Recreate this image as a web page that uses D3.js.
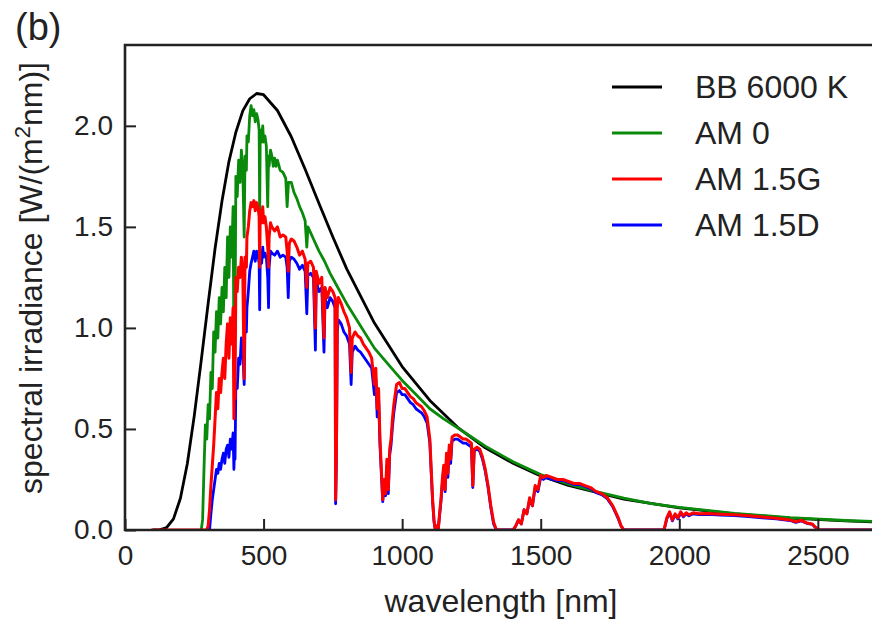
<!DOCTYPE html>
<html lang="en">
<head>
  <meta charset="UTF-8" />
  <title>Solar spectra</title>
  <style>
    body { margin: 0; background: #fff; overflow: hidden; font-family: "Liberation Sans", Arial, Helvetica, sans-serif; }
    svg { position: absolute; top: 0; left: 0; }
    .tick text { font-size: 28px; fill: #222; }
    .tick line { stroke: #222; stroke-width: 2px; }
    .series { fill: none; stroke-linejoin: round; }
    .label { font-size: 32px; fill: #222; }
  </style>
</head>
<body>
<svg id="chart"></svg>
<script src="https://d3js.org/d3.v7.min.js"></script>
<script>
  // black body 6000 K (scaled)
  const bbWl  = [100, 125, 150, 175, 200, 225, 250, 275, 300, 325, 350, 375, 400, 425, 450, 475, 500, 550, 600, 650, 700, 750, 800, 900, 1000, 1100, 1200, 1300, 1400, 1500, 1600, 1800, 2000, 2200, 2400, 2600, 2800];
  const bbVal = [0.0, 0.001, 0.012, 0.055, 0.157, 0.329, 0.566, 0.838, 1.121, 1.393, 1.628, 1.823, 1.968, 2.074, 2.134, 2.16, 2.154, 2.076, 1.946, 1.785, 1.616, 1.45, 1.292, 1.024, 0.809, 0.641, 0.508, 0.407, 0.33, 0.267, 0.221, 0.153, 0.109, 0.08, 0.059, 0.045, 0.035];

  // AM 0
  const am0Wl  = [275, 280, 285, 290, 295, 300, 305, 310, 315, 320, 325, 330, 335, 340, 345, 350, 355, 360, 365, 370, 375, 380, 385, 390, 393, 396, 397, 400, 405, 410, 415, 420, 425, 430, 433, 438, 440, 445, 450, 455, 460, 465, 470, 475, 480, 484, 486, 488, 493, 497, 500, 505, 510, 515, 518, 520, 525, 530, 535, 540, 545, 550, 560, 570, 580, 585, 590, 600, 610, 620, 630, 640, 650, 656, 660, 670, 680, 690, 700, 720, 740, 760, 780, 800, 850, 900, 950, 1000, 1050, 1100, 1150, 1200, 1250, 1300, 1400, 1500, 1600, 1700, 1800, 1900, 2000, 2200, 2400, 2600, 2800];
  const am0Val = [0.0, 0.05, 0.3, 0.52, 0.45, 0.62, 0.55, 0.78, 0.7, 0.98, 0.88, 1.08, 0.95, 1.15, 1.02, 1.2, 1.08, 1.3, 1.15, 1.45, 1.25, 1.5, 1.35, 1.6, 0.9, 1.5, 1.0, 1.75, 1.65, 1.83, 1.72, 1.88, 1.78, 1.45, 1.85, 1.78, 1.95, 1.92, 2.05, 2.1, 2.05, 2.08, 2.02, 2.06, 2.03, 1.98, 1.55, 1.98, 1.92, 2.0, 1.92, 1.95, 1.9, 1.6, 1.85, 1.8, 1.88, 1.85, 1.8, 1.84, 1.8, 1.83, 1.78, 1.77, 1.74, 1.6, 1.72, 1.72, 1.67, 1.64, 1.6, 1.57, 1.53, 1.4, 1.5, 1.47, 1.44, 1.41, 1.38, 1.33, 1.27, 1.22, 1.17, 1.12, 1.01, 0.9, 0.82, 0.74, 0.67, 0.6, 0.55, 0.505, 0.46, 0.415, 0.338, 0.274, 0.227, 0.19, 0.158, 0.131, 0.112, 0.082, 0.061, 0.047, 0.037];

  // AM 1.5G
  const amgWl  = [95, 295, 300, 305, 310, 315, 320, 325, 330, 335, 340, 345, 350, 355, 360, 365, 370, 375, 380, 385, 390, 393, 396, 397, 400, 405, 410, 415, 420, 425, 430, 433, 438, 440, 445, 450, 455, 460, 465, 470, 475, 480, 484, 486, 488, 493, 497, 500, 505, 510, 515, 518, 520, 525, 530, 540, 550, 560, 570, 580, 585, 589, 593, 600, 610, 620, 630, 640, 650, 656, 660, 670, 680, 687, 690, 700, 710, 718, 722, 730, 740, 750, 758, 760, 763, 766, 770, 780, 790, 800, 810, 816, 820, 830, 840, 850, 860, 870, 880, 890, 900, 905, 910, 915, 920, 925, 930, 935, 940, 945, 950, 955, 960, 965, 970, 980, 990, 1000, 1010, 1020, 1030, 1040, 1050, 1060, 1070, 1080, 1090, 1100, 1105, 1110, 1115, 1120, 1125, 1130, 1135, 1140, 1145, 1150, 1155, 1160, 1165, 1170, 1175, 1180, 1190, 1200, 1210, 1220, 1230, 1240, 1250, 1255, 1260, 1270, 1280, 1290, 1300, 1310, 1320, 1330, 1340, 1400, 1410, 1420, 1430, 1440, 1450, 1460, 1470, 1480, 1490, 1500, 1510, 1520, 1540, 1560, 1580, 1600, 1620, 1640, 1660, 1680, 1700, 1720, 1740, 1760, 1780, 1790, 1800, 1945, 1955, 1965, 1975, 1985, 1995, 2005, 2015, 2025, 2035, 2050, 2070, 2100, 2150, 2200, 2250, 2300, 2350, 2400, 2420, 2440, 2460, 2480, 2490, 2505, 2800];
  const amgVal = [0.0, 0.0, 0.02, 0.1, 0.22, 0.32, 0.42, 0.55, 0.68, 0.6, 0.75, 0.68, 0.78, 0.85, 0.75, 0.92, 1.02, 0.85, 1.05, 0.92, 1.1, 0.55, 1.05, 0.65, 1.25, 1.18, 1.3, 1.25, 1.35, 1.28, 0.75, 1.35, 1.3, 1.45, 1.5, 1.58, 1.62, 1.6, 1.63, 1.58, 1.62, 1.6, 1.55, 1.3, 1.58, 1.52, 1.6, 1.52, 1.55, 1.5, 1.4, 1.3, 1.45, 1.52, 1.5, 1.48, 1.5, 1.45, 1.46, 1.45, 1.38, 1.28, 1.42, 1.44, 1.43, 1.4, 1.36, 1.38, 1.34, 1.2, 1.32, 1.33, 1.3, 1.0, 1.28, 1.22, 1.25, 0.95, 1.2, 1.15, 1.2, 1.18, 1.15, 0.15, 0.4, 1.1, 1.15, 1.12, 1.08, 1.05, 1.0, 0.78, 0.95, 0.98, 0.96, 0.95, 0.92, 0.9, 0.88, 0.85, 0.72, 0.8, 0.6, 0.7, 0.45, 0.3, 0.15, 0.25, 0.18, 0.35, 0.2, 0.4, 0.45, 0.55, 0.62, 0.72, 0.73, 0.7, 0.7, 0.68, 0.66, 0.65, 0.63, 0.62, 0.61, 0.59, 0.56, 0.45, 0.3, 0.15, 0.05, 0.0, 0.02, 0.0, 0.08, 0.15, 0.25, 0.32, 0.2, 0.38, 0.28, 0.42, 0.35, 0.46, 0.47, 0.47, 0.46, 0.45, 0.45, 0.44, 0.43, 0.22, 0.4, 0.41, 0.4, 0.36, 0.3, 0.22, 0.12, 0.04, 0.0, 0.0, 0.02, 0.05, 0.03, 0.1, 0.08, 0.16, 0.12, 0.22, 0.2, 0.27, 0.26, 0.27, 0.26, 0.25, 0.25, 0.24, 0.23, 0.23, 0.22, 0.21, 0.19, 0.18, 0.16, 0.12, 0.06, 0.02, 0.0, 0.0, 0.06, 0.09, 0.05, 0.08, 0.06, 0.09, 0.07, 0.085, 0.075, 0.085, 0.08, 0.082, 0.078, 0.075, 0.07, 0.064, 0.058, 0.05, 0.04, 0.048, 0.035, 0.03, 0.015, 0.0, 0.0];

  // AM 1.5D
  const amdWl  = [305, 310, 315, 320, 325, 330, 335, 340, 345, 350, 355, 360, 365, 370, 375, 380, 385, 390, 393, 396, 397, 400, 405, 410, 415, 420, 425, 430, 433, 438, 440, 445, 450, 455, 460, 465, 470, 475, 480, 484, 486, 488, 493, 497, 500, 505, 510, 515, 518, 520, 525, 530, 540, 550, 560, 570, 580, 585, 589, 593, 600, 610, 620, 630, 640, 650, 656, 660, 670, 680, 687, 690, 700, 710, 718, 722, 730, 740, 750, 758, 760, 763, 766, 770, 780, 790, 800, 810, 816, 820, 830, 840, 850, 860, 870, 880, 890, 900, 905, 910, 915, 920, 925, 930, 935, 940, 945, 950, 955, 960, 965, 970, 980, 990, 1000, 1010, 1020, 1030, 1040, 1050, 1060, 1070, 1080, 1090, 1100, 1105, 1110, 1115, 1120, 1125, 1130, 1135, 1140, 1145, 1150, 1155, 1160, 1165, 1170, 1175, 1180, 1190, 1200, 1210, 1220, 1230, 1240, 1250, 1255, 1260, 1270, 1280, 1290, 1300, 1310, 1320, 1330, 1340, 1400, 1410, 1420, 1430, 1440, 1450, 1460, 1470, 1480, 1490, 1500, 1510, 1520, 1540, 1560, 1580, 1600, 1620, 1640, 1660, 1680, 1700, 1720, 1740, 1760, 1780, 1790, 1800, 1945, 1955, 1965, 1975, 1985, 1995, 2005, 2015, 2025, 2035, 2050, 2070, 2100, 2150, 2200, 2250, 2300, 2350, 2400, 2420, 2440, 2460, 2480, 2490, 2505, 2800];
  const amdVal = [0.0, 0.08, 0.15, 0.2, 0.25, 0.3, 0.28, 0.33, 0.3, 0.35, 0.38, 0.33, 0.4, 0.42, 0.36, 0.45, 0.4, 0.48, 0.3, 0.45, 0.35, 0.72, 0.7, 0.85, 0.82, 0.95, 0.9, 0.72, 1.0, 0.98, 1.1, 1.18, 1.28, 1.32, 1.35, 1.38, 1.33, 1.38, 1.36, 1.32, 1.09, 1.36, 1.32, 1.4, 1.35, 1.37, 1.35, 1.25, 1.1, 1.3, 1.38, 1.37, 1.36, 1.38, 1.35, 1.36, 1.35, 1.3, 1.15, 1.33, 1.35, 1.34, 1.32, 1.29, 1.31, 1.28, 1.07, 1.26, 1.27, 1.25, 0.89, 1.23, 1.18, 1.2, 0.88, 1.15, 1.1, 1.15, 1.13, 1.1, 0.13, 0.35, 0.98, 1.04, 1.02, 0.98, 0.96, 0.92, 0.72, 0.88, 0.91, 0.89, 0.88, 0.86, 0.84, 0.82, 0.8, 0.67, 0.75, 0.56, 0.65, 0.42, 0.28, 0.14, 0.23, 0.17, 0.32, 0.18, 0.37, 0.42, 0.51, 0.58, 0.68, 0.69, 0.67, 0.67, 0.65, 0.63, 0.62, 0.6, 0.59, 0.58, 0.56, 0.53, 0.43, 0.28, 0.14, 0.04, 0.0, 0.02, 0.0, 0.07, 0.14, 0.23, 0.3, 0.19, 0.36, 0.26, 0.4, 0.33, 0.44, 0.45, 0.45, 0.44, 0.43, 0.43, 0.42, 0.41, 0.21, 0.39, 0.4, 0.39, 0.35, 0.29, 0.21, 0.11, 0.03, 0.0, 0.0, 0.02, 0.05, 0.03, 0.1, 0.08, 0.15, 0.12, 0.21, 0.19, 0.26, 0.25, 0.26, 0.25, 0.245, 0.245, 0.235, 0.225, 0.225, 0.215, 0.205, 0.185, 0.175, 0.155, 0.115, 0.055, 0.02, 0.0, 0.0, 0.055, 0.085, 0.045, 0.075, 0.055, 0.085, 0.065, 0.08, 0.07, 0.08, 0.076, 0.078, 0.074, 0.071, 0.066, 0.06, 0.055, 0.047, 0.038, 0.045, 0.033, 0.028, 0.014, 0.0, 0.0];

  const xTicks = [0, 500, 1000, 1500, 2000, 2500];
  const yTicks = [0, 0.5, 1.0, 1.5, 2.0];
  const legendNames = ["BB 6000 K", "AM 0", "AM 1.5G", "AM 1.5D"];
  const colors = ["#000000", "#0a8a0a", "#ff0000", "#0000ff"];

  const width = 872, height = 620;
  const mLeft = 125, mRight = 901, mTop = 45, mBottom = 530;

  const svg = d3.select("#chart").attr("width", width).attr("height", height);

  const x = d3.scaleLinear().domain([0, 2800]).range([mLeft, mRight]);
  const y = d3.scaleLinear().domain([0, 2.4]).range([mBottom, mTop]);

  const zip = (wl, val) => wl.map((w, i) => [w, val[i]]);
  const series = [
    { name: legendNames[0], pts: zip(bbWl, bbVal), color: colors[0], w: 2.8 },
    { name: legendNames[1], pts: zip(am0Wl, am0Val), color: colors[1], w: 2.8 },
    { name: legendNames[3], pts: zip(amdWl, amdVal), color: colors[3], w: 2.8 },
    { name: legendNames[2], pts: zip(amgWl, amgVal), color: colors[2], w: 3 }
  ];

  svg.append("clipPath").attr("id", "plot")
    .append("rect").attr("x", mLeft).attr("y", mTop).attr("width", mRight - mLeft).attr("height", mBottom - mTop);

  const line = d3.line().x(d => x(d[0])).y(d => y(d[1]));

  svg.append("g").attr("clip-path", "url(#plot)")
    .selectAll("path")
    .data(series)
    .enter()
    .append("path")
    .attr("class", "series")
    .attr("d", d => line(d.pts))
    .attr("stroke", d => d.color)
    .attr("stroke-width", d => d.w);

  // axes with inward ticks
  const xAxis = svg.append("g").attr("transform", `translate(0,${mBottom})`)
    .call(d3.axisBottom(x).tickValues(xTicks).tickFormat(d3.format("d"))
      .tickSizeInner(-11).tickSizeOuter(0).tickPadding(15));
  const yAxis = svg.append("g").attr("transform", `translate(${mLeft},0)`)
    .call(d3.axisLeft(y).tickValues(yTicks).tickFormat(d3.format(".1f"))
      .tickSizeInner(-11).tickSizeOuter(0).tickPadding(12));
  xAxis.select(".domain").remove();
  yAxis.select(".domain").remove();
  svg.selectAll(".tick text").attr("font-family", null).attr("font-size", null);

  // frame
  svg.append("path")
    .attr("d", `M${mRight},${mTop}H${mLeft}V${mBottom}H${mRight}`)
    .attr("fill", "none").attr("stroke", "#222").attr("stroke-width", 2.6);

  // axis titles
  svg.append("text").attr("class", "label")
    .attr("x", 501).attr("y", 612).attr("text-anchor", "middle")
    .text("wavelength [nm]");

  const yl = svg.append("text").attr("class", "label")
    .attr("transform", "translate(42,278) rotate(-90)")
    .attr("text-anchor", "middle");
  yl.append("tspan").text("spectral irradiance [W/(m");
  yl.append("tspan").attr("dy", -12).attr("font-size", 22).text("2");
  yl.append("tspan").attr("dy", 12).text("nm)]");

  svg.append("text").attr("x", 15).attr("y", 40)
    .attr("font-size", 38).attr("fill", "#222").text("(b)");

  // legend
  const legendRows = [0, 1, 2, 3];
  const leg = svg.append("g");
  legendRows.forEach(i => {
    const ly = 87 + i * 46;
    leg.append("line").attr("x1", 612).attr("x2", 662).attr("y1", ly).attr("y2", ly)
      .attr("stroke", colors[i]).attr("stroke-width", 3);
    leg.append("text").attr("class", "label").attr("x", 695).attr("y", ly + 11)
      .text(legendNames[i]);
  });
</script>
</body>
</html>
